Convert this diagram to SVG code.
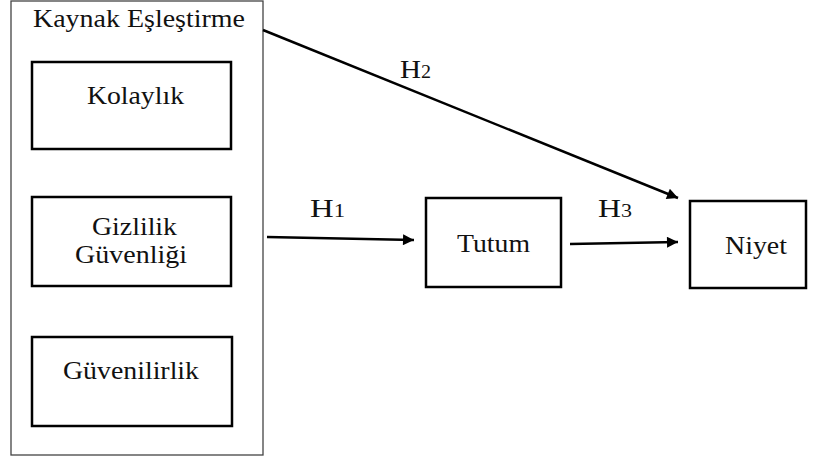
<svg xmlns="http://www.w3.org/2000/svg" width="814" height="468" viewBox="0 0 814 468">
<defs>
<marker id="arr" viewBox="0 0 10 10" refX="10" refY="5" markerWidth="15" markerHeight="11" markerUnits="userSpaceOnUse" orient="auto">
<path d="M0,0 L10,5 L0,10 Z" fill="#000"/>
</marker>
<style>
.outer{fill:#fff;stroke:#444;stroke-width:1.3}
.box{fill:#fff;stroke:#000;stroke-width:2.5}
.t{font-family:"Liberation Serif","Times New Roman",serif;font-size:26px;fill:#111;text-anchor:middle}
.h{font-family:"Liberation Serif","Times New Roman",serif;font-size:26px;fill:#111}
.sub{font-size:18px}
.c{stroke:#000;stroke-width:2.5;fill:none;marker-end:url(#arr)}
</style>
</defs>
<rect width="814" height="468" fill="#fff"/>
<g id="kaynak">
<rect class="outer" x="11" y="1" width="252" height="454"/>
<text class="t" x="139" y="27" textLength="212" lengthAdjust="spacingAndGlyphs">Kaynak Eşleştirme</text>
</g>
<g id="kolaylik">
<rect class="box" x="32" y="62" width="199" height="87"/>
<text class="t" x="135.5" y="104" textLength="97" lengthAdjust="spacingAndGlyphs">Kolaylık</text>
</g>
<g id="gizlilik">
<rect class="box" x="32" y="197" width="199" height="89"/>
<text class="t" x="134.5" y="235" textLength="85" lengthAdjust="spacingAndGlyphs">Gizlilik</text>
<text class="t" x="131" y="263" textLength="112" lengthAdjust="spacingAndGlyphs">Güvenliği</text>
</g>
<g id="guvenilirlik">
<rect class="box" x="32" y="337" width="200" height="89"/>
<text class="t" x="131" y="379" textLength="136" lengthAdjust="spacingAndGlyphs">Güvenilirlik</text>
</g>
<g id="tutum">
<rect class="box" x="426" y="198" width="135" height="89"/>
<text class="t" x="493.5" y="252" textLength="73" lengthAdjust="spacingAndGlyphs">Tutum</text>
</g>
<g id="niyet">
<rect class="box" x="690" y="201" width="116" height="87"/>
<text class="t" x="756" y="254" textLength="62" lengthAdjust="spacingAndGlyphs">Niyet</text>
</g>
<g id="connectors">
<line class="c" x1="263" y1="30" x2="678" y2="198"/>
<line class="c" x1="267" y1="237" x2="414" y2="240"/>
<line class="c" x1="570" y1="244" x2="678" y2="242"/>
<text class="h" x="400" y="78" textLength="31" lengthAdjust="spacingAndGlyphs">H<tspan class="sub">2</tspan></text>
<text class="h" x="310" y="217" textLength="35" lengthAdjust="spacingAndGlyphs">H<tspan class="sub">1</tspan></text>
<text class="h" x="598" y="217" textLength="34" lengthAdjust="spacingAndGlyphs">H<tspan class="sub">3</tspan></text>
</g>
</svg>
